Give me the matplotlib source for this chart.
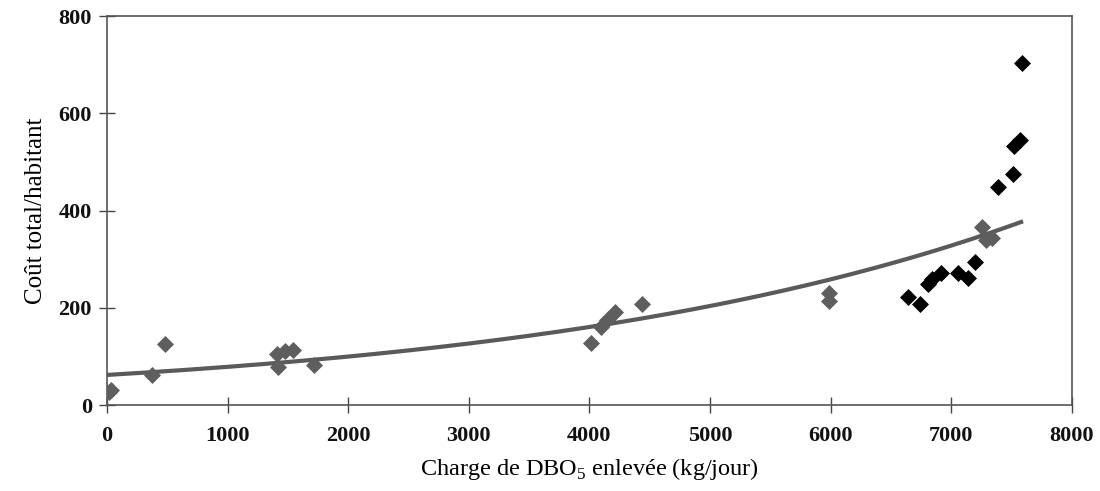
import numpy as np
import matplotlib.pyplot as plt

plt.rcParams['font.family'] = ['Liberation Serif', 'DejaVu Serif']
plt.rcParams['mathtext.fontset'] = 'custom'
plt.rcParams['mathtext.rm'] = 'Liberation Serif'

# Stations (gris) : charge DBO5 enlevée (kg/jour) et coût total/habitant
x_gris = [20, 35, 375, 480, 1410, 1420, 1475, 1545, 1720,
          4010, 4100, 4150, 4210, 4440, 5990, 5990, 7260, 7290, 7340]
y_gris = [27, 30, 62, 125, 106, 79, 111, 113, 82,
          128, 160, 176, 191, 208, 231, 214, 366, 340, 344]

# Stations (noir)
x_noir = [6640, 6740, 6810, 6840, 6920, 7060, 7140, 7200,
          7390, 7510, 7520, 7570, 7585]
y_noir = [222, 207, 250, 260, 272, 271, 261, 295,
          449, 475, 532, 545, 703]

# Courbe de tendance exponentielle y = a*exp(b*x)
a_tend = 62
b_tend = 2.38e-4
x_tend = np.linspace(0, 7580, 200)
y_tend = a_tend * np.exp(b_tend * x_tend)

fig = plt.figure(figsize=(11, 4.91), dpi=100)
ax = fig.add_axes([0.0973, 0.175, 0.877, 0.792])

ax.plot(x_tend, y_tend, color='#5a5a5a', lw=3, zorder=2)
ax.scatter(x_gris, y_gris, marker='D', s=75, color='#5e5e5e', zorder=3, linewidths=0)
ax.scatter(x_noir, y_noir, marker='D', s=75, color='black', zorder=4, linewidths=0)

ax.set_xlim(0, 8000)
ax.set_ylim(0, 800)
ax.set_xticks(range(0, 8001, 1000))
ax.set_yticks(range(0, 801, 200))
ax.tick_params(direction='inout', length=12, width=1, colors='#444444',
               labelsize=16)
ax.tick_params(axis='x', pad=9)
ax.tick_params(axis='y', pad=5)
for lab in ax.get_xticklabels() + ax.get_yticklabels():
    lab.set_fontweight('bold')
    lab.set_color('#111111')
for sp in ax.spines.values():
    sp.set_color('#555555')
    sp.set_linewidth(1.2)

ax.set_xlabel('Charge de DBO$_\\mathrm{5}$ enlevée (kg/jour)', fontsize=17.5, labelpad=7)
ax.set_ylabel('Coût total/habitant', fontsize=18, labelpad=8)

fig.savefig('out.png', dpi=100)
